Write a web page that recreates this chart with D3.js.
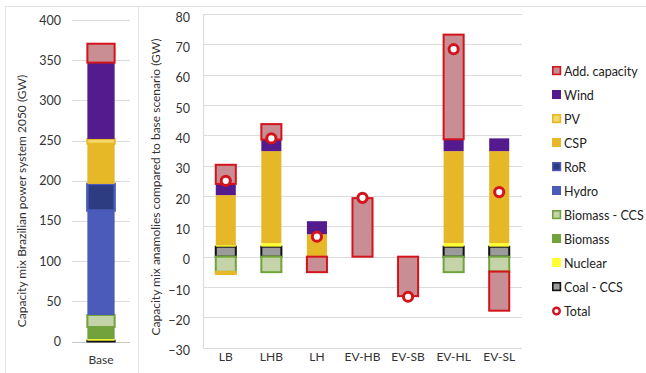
<!DOCTYPE html>
<html>
<head>
<meta charset="utf-8">
<script src="https://cdn.jsdelivr.net/npm/d3@7"></script>
<style>
  html, body { margin: 0; padding: 0; background: #fff; }
  svg { display: block; font-family: Lato, "Open Sans", sans-serif; }
</style>
</head>
<body>
<svg id="chart" width="646" height="373"></svg>
<script>
// Technologies, bottom to top of each stack
const seriesNames = ["Coal - CCS", "Nuclear", "Biomass", "Biomass - CCS", "Hydro", "RoR", "CSP", "PV", "Wind", "Add. capacity"];

// Base scenario capacity mix 2050 (GW)
const baseCategory = ["Base"];
const baseValues = [1, 2, 15, 15, 130, 33, 50, 6, 95, 23.5];

// Scenario differences vs. base (GW)
const scenarios = ["LB", "LHB", "LH", "EV-HB", "EV-SB", "EV-HL", "EV-SL"];
const coalCCS     = [3.3, 3.3, 0, 0, 0, 3.3, 3.3];
const nuclear     = [0.5, 1.2, 0, 0, 0, 1.2, 1.2];
const biomass     = [0, 0, 0, 0, 0, 0, 0];
const biomassCCS  = [-5, -5.1, 0, 0, 0, -5.1, -4.9];
const hydro       = [0, 0, 0, 0, 0, 0, 0];
const ror         = [0, 0, 0, 0, 0, 0, 0];
const csp         = [16.5, 30.3, 7.4, 0, 0, 30.3, 30.3];
const pv          = [-0.7, 0, 0, 0, 0, 0, 0];
const wind        = [3.7, 3.8, 4.3, 0, 0, 3.9, 4.2];
const addCapacity = [6.3, 5.1, -5.1, 19.3, -13, 34.5, -12.9];
const totals      = [25, 39, 6.6, 19.4, -13.2, 68.4, 21.3];

// Tick labels
const leftTicks = [0, 50, 100, 150, 200, 250, 300, 350, 400];
const rightTicks = [-30, -20, -10, 0, 10, 20, 30, 40, 50, 60, 70, 80];

// Fill / outline per technology
const styles = {
  "Coal - CCS":    { fill: "#9b9b9b", stroke: "#111111", sw: 2 },
  "Nuclear":       { fill: "#ffff33", stroke: null, sw: 0 },
  "Biomass":       { fill: "#71a23c", stroke: null, sw: 0 },
  "Biomass - CCS": { fill: "#c4d4a8", stroke: "#71a23c", sw: 2 },
  "Hydro":         { fill: "#4a5bb9", stroke: null, sw: 0 },
  "RoR":           { fill: "#2d3b80", stroke: "#4a5bb9", sw: 2.5 },
  "CSP":           { fill: "#e6b727", stroke: null, sw: 0 },
  "PV":            { fill: "#f1d968", stroke: "#e6b727", sw: 2 },
  "Wind":          { fill: "#541b8e", stroke: null, sw: 0 },
  "Add. capacity": { fill: "#c98e94", stroke: "#d3141c", sw: 2 }
};

const svg = d3.select("#chart");
const gridColor = "#dcdcdc";

// Panel frames
svg.append("path")
  .attr("d", "M5.5,373 V6.5 H646 M138.5,6.5 V373")
  .attr("fill", "none").attr("stroke", "#e3e3e3").attr("stroke-width", 1);

function drawStack(g, rows, keys, x, y) {
  const stacked = d3.stack().keys(keys).offset(d3.stackOffsetDiverging)(rows);
  stacked.forEach(layer => {
    const st = styles[layer.key];
    g.append("g").selectAll("rect")
      .data(layer.filter(d => d[1] - d[0] !== 0))
      .join("rect")
      .attr("x", d => x(d.data.cat))
      .attr("width", x.bandwidth())
      .attr("y", d => y(Math.max(d[0], d[1])))
      .attr("height", d => Math.abs(y(d[0]) - y(d[1])))
      .attr("fill", st.fill)
      .attr("stroke", st.stroke || "none")
      .attr("stroke-width", st.sw);
  });
}

// ---------- Left panel: base capacity mix ----------
const xL = d3.scaleBand().domain(baseCategory).range([72, 130]).paddingInner(0.53).paddingOuter(0.265);
const yL = d3.scaleLinear().domain([0, 400]).range([341.5, 20]);

const gL = svg.append("g");
gL.selectAll("line.grid").data(leftTicks).join("line")
  .attr("x1", 72).attr("x2", 130)
  .attr("y1", d => Math.round(yL(d)) + 0.5).attr("y2", d => Math.round(yL(d)) + 0.5)
  .attr("stroke", d => d === 0 ? "#c8c8c8" : gridColor).attr("stroke-width", 1.2);

const yAxisL = d3.axisLeft(yL).tickValues(leftTicks).tickSize(0).tickPadding(0);
gL.append("g").attr("transform", "translate(61,0)").call(yAxisL)
  .call(a => a.select(".domain").remove())
  .call(a => a.selectAll("text").attr("font-size", 12.5).attr("fill", "#333").attr("font-family", "Lato, sans-serif"));

const baseRow = { cat: "Base" };
seriesNames.forEach((k, i) => baseRow[k] = baseValues[i]);
drawStack(gL, [baseRow], seriesNames, xL, yL);

gL.append("text").attr("x", xL("Base") + xL.bandwidth() / 2).attr("y", 364)
  .attr("text-anchor", "middle").attr("font-size", 12).attr("fill", "#333").text("Base");

gL.append("text")
  .attr("transform", "translate(26,201) rotate(-90)")
  .attr("text-anchor", "middle").attr("font-size", 12).attr("fill", "#333")
  .text("Capacity mix Brazilian power system 2050 (GW)");

// ---------- Right panel: scenario anomalies ----------
const xR = d3.scaleBand().domain(scenarios).range([203, 522]).paddingInner(0.56).paddingOuter(0.28);
const yR = d3.scaleLinear().domain([-30, 80]).range([347.7, 14]);

const gR = svg.append("g");
gR.selectAll("line.grid").data(rightTicks).join("line")
  .attr("x1", 203).attr("x2", 522)
  .attr("y1", d => Math.round(yR(d)) + 0.5).attr("y2", d => Math.round(yR(d)) + 0.5)
  .attr("stroke", gridColor).attr("stroke-width", 1.2);
gR.append("line").attr("x1", 203.5).attr("x2", 203.5)
  .attr("y1", yR(80)).attr("y2", yR(-30) + 1)
  .attr("stroke", gridColor).attr("stroke-width", 1.2);

const yAxisR = d3.axisLeft(yR).tickValues(rightTicks).tickSize(0).tickPadding(0);
gR.append("g").attr("transform", "translate(190,3)").call(yAxisR)
  .call(a => a.select(".domain").remove())
  .call(a => a.selectAll("text").attr("font-size", 12.5).attr("fill", "#333").attr("font-family", "Lato, sans-serif"));

const columns = {
  "Coal - CCS": coalCCS, "Nuclear": nuclear, "Biomass": biomass, "Biomass - CCS": biomassCCS,
  "Hydro": hydro, "RoR": ror, "CSP": csp, "PV": pv, "Wind": wind, "Add. capacity": addCapacity
};
const rows = scenarios.map((c, i) => {
  const r = { cat: c };
  seriesNames.forEach(k => r[k] = columns[k][i]);
  return r;
});
drawStack(gR, rows, seriesNames, xR, yR);

// Total markers
gR.selectAll("circle.total").data(scenarios).join("circle")
  .attr("cx", d => xR(d) + xR.bandwidth() / 2)
  .attr("cy", (d, i) => yR(totals[i]))
  .attr("r", 4.6)
  .attr("fill", "#fff").attr("stroke", "#d3141c").attr("stroke-width", 3);

const xAxisR = d3.axisBottom(xR).tickSize(0).tickPadding(0);
gR.append("g").attr("transform", "translate(0,352)").call(xAxisR)
  .call(a => a.select(".domain").remove())
  .call(a => a.selectAll("text").attr("font-size", 12).attr("fill", "#333").attr("font-family", "Lato, sans-serif"));

gR.append("text")
  .attr("transform", "translate(160,187) rotate(-90)")
  .attr("text-anchor", "middle").attr("font-size", 12).attr("fill", "#333")
  .text("Capacity mix anamolies compared to base scenario (GW)");

// ---------- Legend ----------
const legendOrder = ["Add. capacity", "Wind", "PV", "CSP", "RoR", "Hydro", "Biomass - CCS", "Biomass", "Nuclear", "Coal - CCS", "Total"];
const lg = svg.append("g").attr("transform", "translate(552,71)");
const items = lg.selectAll("g").data(legendOrder).join("g")
  .attr("transform", (d, i) => `translate(0,${i * 24})`);
items.each(function (d) {
  const g = d3.select(this);
  if (d === "Total") {
    g.append("circle").attr("cx", 4.5).attr("cy", 0).attr("r", 3.3)
      .attr("fill", "#fff").attr("stroke", "#d3141c").attr("stroke-width", 2.4);
  } else {
    const st = styles[d];
    const sw = st.stroke ? 1.6 : 0;
    g.append("rect").attr("x", 0.8).attr("y", -4.2).attr("width", 7.6).attr("height", 7.6)
      .attr("fill", st.fill).attr("stroke", st.stroke || "none").attr("stroke-width", sw);
    if (!st.stroke) g.select("rect").attr("x", 0).attr("y", -5).attr("width", 9).attr("height", 9);
  }
  g.append("text").attr("x", 12).attr("y", 4.5).attr("font-size", 12.5).attr("fill", "#222").text(d);
});
</script>
</body>
</html>
